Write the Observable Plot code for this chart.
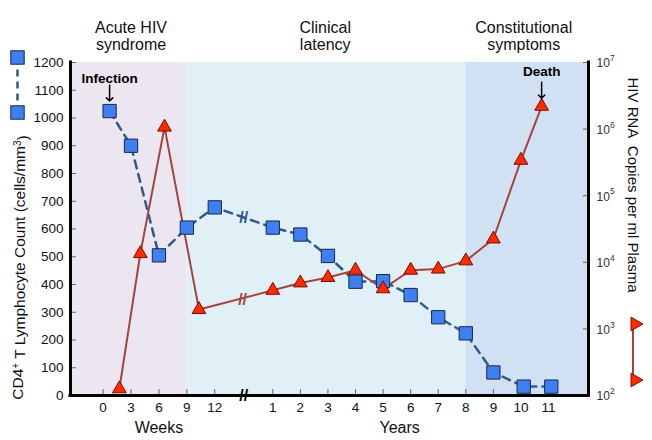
<!DOCTYPE html>
<html><head><meta charset="utf-8">
<script src="https://cdn.jsdelivr.net/npm/d3@7"></script>
<script src="https://cdn.jsdelivr.net/npm/@observablehq/plot@0.6"></script>
<style>
  html,body{margin:0;padding:0;background:#fff;}
  #chart{width:652px;height:440px;}
</style>
</head><body><div id="chart"></div>
<script>
// ---------------- data ----------------
const weekTicks = [0, 3, 6, 9, 12];
const yearTicks = [1, 2, 3, 4, 5, 6, 7, 8, 9, 10, 11];
const cd4Ticks = [0, 100, 200, 300, 400, 500, 600, 700, 800, 900, 1000, 1100, 1200];
const rnaExponents = [2, 3, 4, 5, 6, 7];

const cd4WeekTimes = [0.7, 3, 6, 9, 12];
const cd4WeekCounts = [1025, 900, 505, 605, 678];
const cd4YearTimes = [1, 2, 3, 4, 5, 6, 7, 8, 9, 10.1, 11.1];
const cd4YearCounts = [605, 580, 503, 410, 412, 362, 282, 224, 83, 32, 32];

const rnaWeekTimes = [1.75, 4, 6.6, 10.3];
const rnaWeekCopies = [126, 13500, 1.07e6, 1950];
const rnaYearTimes = [1, 2, 3, 4, 5, 6, 7, 8, 9, 10, 10.75];
const rnaYearCopies = [3800, 4900, 5900, 7600, 4000, 7600, 7900, 10500, 22400, 340000, 2.2e6];

const phaseNames = ["Acute HIV\nsyndrome", "Clinical\nlatency", "Constitutional\nsymptoms"];
const phaseStartWeeks = [-3.5, 9, 8 * 52];
const phaseEndWeeks = [9, 8 * 52, 12.45 * 52];
const phaseLabelWeeks = [3, 2.9 * 52, 10.1 * 52];

const unitNames = ["Weeks", "Years"];
const unitLabelWeeks = [6, 5.6 * 52];

// ---------------- styles ----------------
const phaseFills = ["#ece6f0", "#e1eff6", "#d1e0f2"];
const blueFill = "#3f7ff2", blueStroke = "#17294a", blueLine = "#2d5b8c";
const redFill = "#ff2a00", redStroke = "#7a0c00", redLine = "#a3443e";
const font = "'Liberation Sans', Arial, Helvetica, sans-serif";

// ---------------- derived ----------------
const WEEKS_PER_YEAR = 52;
const cd4Max = cd4Ticks[cd4Ticks.length - 1];
const expMin = rnaExponents[0], expMax = rnaExponents[rnaExponents.length - 1];
const rnaToLeft = c => (Math.log10(c) - expMin) / (expMax - expMin) * cd4Max;
const expToLeft = e => (e - expMin) / (expMax - expMin) * cd4Max;

const cd4 = [
  ...cd4WeekTimes.map((t, i) => ({t, v: cd4WeekCounts[i]})),
  ...cd4YearTimes.map((t, i) => ({t: t * WEEKS_PER_YEAR, v: cd4YearCounts[i]}))
];
const rna = [
  ...rnaWeekTimes.map((t, i) => ({t, v: rnaToLeft(rnaWeekCopies[i])})),
  ...rnaYearTimes.map((t, i) => ({t: t * WEEKS_PER_YEAR, v: rnaToLeft(rnaYearCopies[i])}))
];
const nW1 = cd4WeekTimes.length, nW2 = rnaWeekTimes.length;
const cd4Break = {t: (cd4[nW1 - 1].t + cd4[nW1].t) / 2, v: (cd4[nW1 - 1].v + cd4[nW1].v) / 2};
const rnaBreak = {t: (rna[nW2 - 1].t + rna[nW2].t) / 2, v: (rna[nW2 - 1].v + rna[nW2].v) / 2};
const axisBreak = {t: (weekTicks[weekTicks.length - 1] + yearTicks[0] * WEEKS_PER_YEAR) / 2, v: 0};

const xStart = phaseStartWeeks[0], xEnd = phaseEndWeeks[phaseEndWeeks.length - 1];
const xTicks = [...weekTicks, ...yearTicks.map(y => y * WEEKS_PER_YEAR)];
const phaseIdx = phaseNames.map((_, i) => i);

const chart = Plot.plot({
  width: 652, height: 440,
  marginTop: 62, marginBottom: 45, marginLeft: 70, marginRight: 64,
  style: {fontFamily: font, fontSize: "13.5px", background: "white", overflow: "visible"},
  x: {type: "linear", domain: [xStart, 12, 52, xEnd], range: [70, 214.3, 272.3, 588], label: null},
  y: {domain: [0, cd4Max], label: null},
  marks: [
    Plot.rect(phaseIdx, {x1: i => phaseStartWeeks[i], x2: i => phaseEndWeeks[i], y1: 0, y2: cd4Max, fill: i => phaseFills[i]}),
    Plot.text(phaseIdx, {x: i => phaseLabelWeeks[i], text: i => phaseNames[i], frameAnchor: "top", lineAnchor: "bottom", dy: -12.5, lineHeight: 1.05, fontSize: 16, fill: "#111"}),
    Plot.text(unitNames, {x: (d, i) => unitLabelWeeks[i], text: d => d, frameAnchor: "bottom", lineAnchor: "bottom", dy: 37, fontSize: 16, fill: "#111"}),
    Plot.axisX({ticks: xTicks, tickFormat: d => d < WEEKS_PER_YEAR ? String(d) : String(Math.round(d / WEEKS_PER_YEAR)), tickSize: -6, tickPadding: 13, fontSize: 13.5, stroke: "#666", fill: "#111"}),
    Plot.axisY({ticks: cd4Ticks, tickFormat: d => String(d), anchor: "left", tickSize: -6, tickPadding: 13, fontSize: 13.5, stroke: "#666", fill: "#111"}),
    Plot.axisY({ticks: rnaExponents.map(expToLeft), anchor: "right", tickSize: -6, tickFormat: () => "", stroke: "#666"}),
    Plot.text(rnaExponents, {y: expToLeft, text: () => "10", frameAnchor: "right", textAnchor: "start", dx: 8, dy: 1, fontSize: 12, fill: "#333"}),
    Plot.text(rnaExponents, {y: expToLeft, text: e => String(e), frameAnchor: "right", textAnchor: "start", dx: 21.5, dy: -4, fontSize: 8.5, fill: "#333"}),
    Plot.line(cd4, {x: "t", y: "v", stroke: blueLine, strokeWidth: 2.5, strokeDasharray: "8,6"}),
    Plot.line(rna, {x: "t", y: "v", stroke: redLine, strokeWidth: 2}),
    Plot.text([cd4Break], {x: "t", y: "v", text: () => "//", fill: blueLine, fontSize: 16, fontWeight: "bold"}),
    Plot.text([rnaBreak], {x: "t", y: "v", text: () => "//", fill: redLine, fontSize: 16, fontWeight: "bold"}),
    Plot.dot(cd4, {x: "t", y: "v", symbol: "square", r: 7.5, fill: blueFill, stroke: blueStroke, strokeWidth: 1}),
    Plot.dot(rna, {x: "t", y: "v", symbol: "triangle", r: 5.1, fill: redFill, stroke: redStroke, strokeWidth: 1}),
    Plot.ruleX([xStart, xEnd], {stroke: "black", strokeWidth: 3, strokeLinecap: "square"}),
    Plot.ruleY([0], {stroke: "black", strokeWidth: 3, strokeLinecap: "square"}),
    Plot.text([axisBreak], {x: "t", y: "v", text: () => "//", fill: "black", fontSize: 16, fontWeight: "bold"}),
    Plot.text([cd4[0]], {x: "t", y: "v", text: () => "Infection", lineAnchor: "bottom", dy: -28.3, fontWeight: "bold", fontSize: 13.5, fill: "black"}),
    Plot.vector([cd4[0]], {x: "t", y: "v", length: 16, rotate: 180, anchor: "end", dy: -10, stroke: "black", strokeWidth: 1.5}),
    Plot.text([rna[rna.length - 1]], {x: "t", y: "v", text: () => "Death", lineAnchor: "bottom", dy: -30, fontWeight: "bold", fontSize: 13.5, fill: "black"}),
    Plot.vector([rna[rna.length - 1]], {x: "t", y: "v", length: 16, rotate: 180, anchor: "end", dy: -8, stroke: "black", strokeWidth: 1.5})
  ]
});
document.getElementById("chart").appendChild(chart);

// ---------------- axis titles & legend keys ----------------
const svg = d3.select(chart);
const leftTitle = svg.append("text")
  .attr("transform", "translate(23,267.5) rotate(-90)")
  .attr("text-anchor", "middle").attr("font-size", 15.5).attr("fill", "#111")
  .attr("font-family", font);
leftTitle.append("tspan").text("CD4");
leftTitle.append("tspan").attr("dy", "-0.45em").attr("font-size", 10).text("+");
leftTitle.append("tspan").attr("dy", "0.45em").text(" T Lymphocyte Count (cells/mm");
leftTitle.append("tspan").attr("dy", "-0.45em").attr("font-size", 10).text("3");
leftTitle.append("tspan").attr("dy", "0.45em").text(")");

svg.append("text")
  .attr("transform", "translate(628,185) rotate(90)")
  .attr("text-anchor", "middle").attr("font-size", 15).attr("fill", "#111")
  .attr("font-family", font).attr("xml:space", "preserve")
  .style("white-space", "pre")
  .text("HIV RNA  Copies per ml Plasma");

const key = svg.append("g");
key.append("line").attr("x1", 17.5).attr("x2", 17.5).attr("y1", 57.5).attr("y2", 112.5)
  .attr("stroke", blueLine).attr("stroke-width", 2.5).attr("stroke-dasharray", "7,5");
[57.5, 112.5].forEach(y => key.append("rect")
  .attr("x", 17.5 - 6.7).attr("y", y - 6.7).attr("width", 13.4).attr("height", 13.4)
  .attr("fill", blueFill).attr("stroke", blueStroke));
key.append("line").attr("x1", 633).attr("x2", 633).attr("y1", 324).attr("y2", 380)
  .attr("stroke", redLine).attr("stroke-width", 2);
const tri = d3.symbol(d3.symbolTriangle, Math.PI * 5.1 * 5.1)();
[324, 380].forEach(y => key.append("path").attr("d", tri)
  .attr("transform", `translate(635,${y}) rotate(90)`)
  .attr("fill", redFill).attr("stroke", redStroke));
</script>
</body></html>
